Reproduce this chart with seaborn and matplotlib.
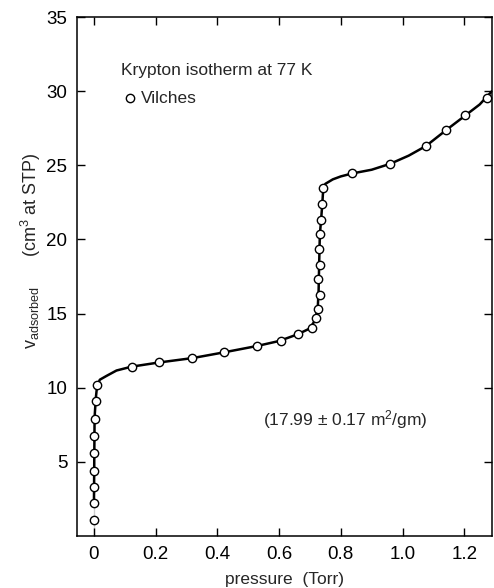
import matplotlib
matplotlib.use("Agg")
import matplotlib.pyplot as plt
import seaborn as sns
import pandas as pd

# measured points (Vilches)
pts_p = [0.000, 0.000, 0.000, 0.000, 0.000, 0.001, 0.002, 0.006, 0.010,
         0.123, 0.211, 0.319, 0.422, 0.527, 0.605, 0.661,
         0.706, 0.719, 0.727, 0.731, 0.725, 0.731, 0.729, 0.732, 0.736, 0.740, 0.742,
         0.837, 0.960, 1.076, 1.140, 1.203, 1.274]
pts_v = [1.1, 2.2, 3.3, 4.4, 5.6, 6.75, 7.9, 9.08, 10.2,
         11.42, 11.72, 12.01, 12.40, 12.82, 13.16, 13.64,
         14.05, 14.70, 15.30, 16.26, 17.30, 18.30, 19.38, 20.34, 21.30, 22.37, 23.47,
         24.45, 25.12, 26.33, 27.38, 28.37, 29.51]

# drawn isotherm curve
curve_p = [0.0, 0.0, 0.002, 0.006, 0.010, 0.019, 0.041, 0.073, 0.122, 0.21, 0.32,
           0.42, 0.53, 0.60, 0.66, 0.70, 0.715, 0.725, 0.728, 0.730, 0.732, 0.736,
           0.740, 0.743, 0.750, 0.774, 0.80, 0.837, 0.90, 0.96, 1.02, 1.076, 1.14,
           1.203, 1.25, 1.29]
curve_v = [0.0, 5.0, 8.0, 9.3, 10.1, 10.54, 10.8, 11.16, 11.42, 11.7, 12.0,
           12.38, 12.82, 13.15, 13.6, 14.0, 14.5, 15.3, 16.5, 18.5, 20.3, 21.3,
           22.4, 23.4, 23.75, 24.05, 24.25, 24.45, 24.7, 25.1, 25.65, 26.3, 27.35,
           28.35, 29.1, 30.0]

xticks = [0, 0.2, 0.4, 0.6, 0.8, 1.0, 1.2]
xticklabels = ["0", "0.2", "0.4", "0.6", "0.8", "1.0", "1.2"]
yticks = [5, 10, 15, 20, 25, 30, 35]

sns.set_style("ticks")
plt.rcParams["font.family"] = ["Liberation Sans", "DejaVu Sans"]
plt.rcParams["mathtext.fontset"] = "custom"
plt.rcParams["mathtext.rm"] = "Liberation Sans"
plt.rcParams["mathtext.it"] = "Liberation Sans"

fig = plt.figure(figsize=(4.94, 5.88), dpi=100)
ax = fig.add_axes([77/494, 1-536/588, (492-77)/494, (536-17)/588])

curve = pd.DataFrame({"p": curve_p, "v": curve_v})
pts = pd.DataFrame({"p": pts_p, "v": pts_v})

sns.lineplot(data=curve, x="p", y="v", sort=False, color="black", lw=1.8, ax=ax, zorder=2)
sns.scatterplot(data=pts, x="p", y="v", marker="o", s=36, facecolor="white",
                edgecolor="black", linewidth=1.0, ax=ax, zorder=3, label="Vilches")

ax.set_xlim(-0.055, 1.29)
ax.set_ylim(0, 35)
ax.set_xticks(xticks)
ax.set_xticklabels(xticklabels)
ax.set_yticks(yticks)
ax.tick_params(direction="in", length=6, width=1, top=True, right=True,
               labelsize=13.5, pad=7, colors="black")
for s in ax.spines.values():
    s.set_linewidth(1.1)
    s.set_color("black")

ax.set_xlabel("pressure  (Torr)", fontsize=12.5, labelpad=7)
ax.set_ylabel("v$_{\\mathregular{adsorbed}}$      (cm$^{\\mathregular{3}}$ at STP)",
              fontsize=13)
ax.yaxis.set_label_coords(-0.082, 0.55)

leg = ax.legend(loc="upper left", bbox_to_anchor=(0.085, 0.928), frameon=False,
                title="Krypton isotherm at 77 K", alignment="left",
                fontsize=12.5, title_fontsize=12.5, handletextpad=0.15,
                handlelength=1.0, borderpad=0, labelspacing=0.2)
leg._legend_box.sep = 9

ax.text(0.816, 7.85, "(17.99 ± 0.17 m$^{\\mathregular{2}}$/gm)", ha="center", va="center",
        fontsize=12.5)

fig.savefig("out.png", dpi=100)
